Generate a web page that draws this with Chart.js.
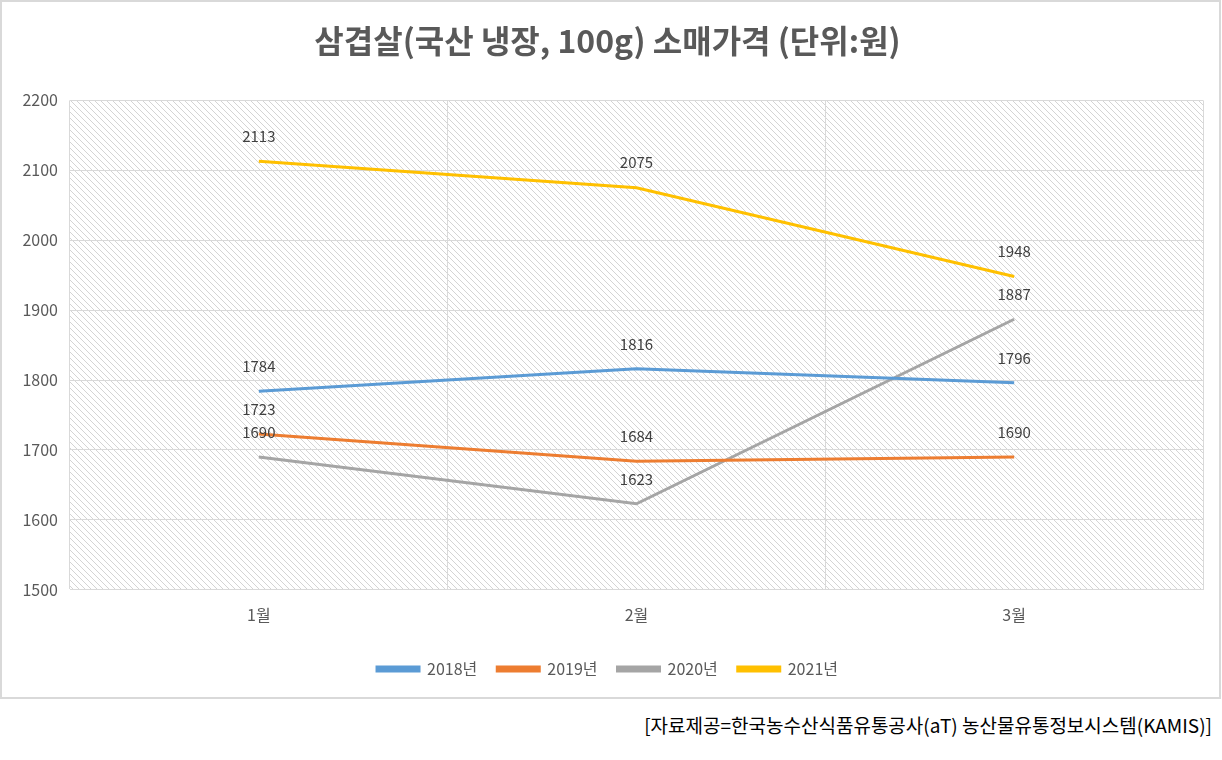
<!DOCTYPE html>
<html>
<head>
<meta charset="utf-8">
<script src="https://cdn.jsdelivr.net/npm/chart.js@4"></script>
<style>
  body { margin: 0; background: #fff; font-family: "Noto Sans CJK KR", sans-serif; }
  #box { position: absolute; left: 0; top: 0; width: 1217px; height: 695px; border: 2px solid #d9d9d9; }
  #src { position: absolute; right: 10px; top: 711px; font-size: 19px; color: #000; }
</style>
</head>
<body>
<div id="box"><canvas id="chart" width="1217" height="695"></canvas></div>
<div id="src">[자료제공=한국농수산식품유통공사(aT)  농산물유통정보시스템(KAMIS)]</div>
<script>
const months = ['1월', '2월', '3월'];
const seriesNames = ['2018년', '2019년', '2020년', '2021년'];
const v2018 = [1784, 1816, 1796];
const v2019 = [1723, 1684, 1690];
const v2020 = [1690, 1623, 1887];
const v2021 = [2113, 2075, 1948];
const colors = ['#5b9bd5', '#ed7d31', '#a5a5a5', '#ffc000'];

function makeHatch() {
    const c = document.createElement('canvas');
    c.width = 6; c.height = 6;
    const g = c.getContext('2d');
    g.fillStyle = '#fff';
    g.fillRect(0, 0, 6, 6);
    g.strokeStyle = '#d4d4d4';
    g.lineWidth = 1;
    g.beginPath();
    g.moveTo(-1, -1); g.lineTo(7, 7);
    g.moveTo(-4, 2); g.lineTo(4, 10);
    g.moveTo(2, -4); g.lineTo(10, 4);
    g.stroke();
    return c;
}

const hatchBg = {
    id: 'hatchBg',
    beforeDraw(chart) {
        const {ctx, chartArea} = chart;
        ctx.save();
        ctx.fillStyle = ctx.createPattern(makeHatch(), 'repeat');
        ctx.fillRect(chartArea.left, chartArea.top, chartArea.right - chartArea.left, chartArea.bottom - chartArea.top);
        ctx.restore();
    }
};

const valueLabels = {
    id: 'valueLabels',
    afterDatasetsDraw(chart) {
        const ctx = chart.ctx;
        ctx.save();
        ctx.font = '15px "Noto Sans CJK KR", sans-serif';
        ctx.fillStyle = '#404040';
        ctx.textAlign = 'center';
        ctx.textBaseline = 'middle';
        chart.data.datasets.forEach((ds, i) => {
            chart.getDatasetMeta(i).data.forEach((pt, j) => {
                ctx.fillText(ds.data[j], pt.x, pt.y - 25);
            });
        });
        ctx.restore();
    }
};

const allSeries = [v2018, v2019, v2020, v2021];

new Chart(document.getElementById('chart'), {
    type: 'line',
    data: {
        labels: months,
        datasets: allSeries.map((vals, i) => ({
            label: seriesNames[i],
            data: vals,
            borderColor: colors[i],
            backgroundColor: colors[i],
            borderWidth: 3,
            pointRadius: 0,
            tension: 0
        }))
    },
    options: {
        responsive: false,
        animation: false,
        layout: { padding: { top: 12, left: 10, right: 16, bottom: 10 } },
        plugins: {
            title: {
                display: true,
                text: '삼겹살(국산 냉장, 100g) 소매가격 (단위:원)',
                color: '#595959',
                font: { family: '"Noto Sans CJK KR", sans-serif', size: 32, weight: 'bold' },
                padding: { top: 8, bottom: 40 }
            },
            legend: {
                position: 'bottom',
                labels: {
                    color: '#595959',
                    font: { family: '"Noto Sans CJK KR", sans-serif', size: 16 },
                    boxWidth: 42,
                    boxHeight: 4,
                    padding: 20
                }
            },
            tooltip: { enabled: false }
        },
        scales: {
            x: {
                offset: true,
                grid: { color: '#d9d9d9', offset: true, drawTicks: false },
                border: { color: '#d9d9d9' },
                ticks: { color: '#595959', padding: 16, font: { family: '"Noto Sans CJK KR", sans-serif', size: 16 } }
            },
            y: {
                min: 1500,
                max: 2200,
                afterFit: s => { s.width = 58; },
                ticks: {
                    stepSize: 100,
                    color: '#595959',
                    padding: 12,
                    font: { family: '"Noto Sans CJK KR", sans-serif', size: 16 },
                    callback: v => String(v)
                },
                grid: { color: '#d9d9d9', drawTicks: false },
                border: { display: false }
            }
        }
    },
    plugins: [hatchBg, valueLabels]
});
</script>
</body>
</html>
